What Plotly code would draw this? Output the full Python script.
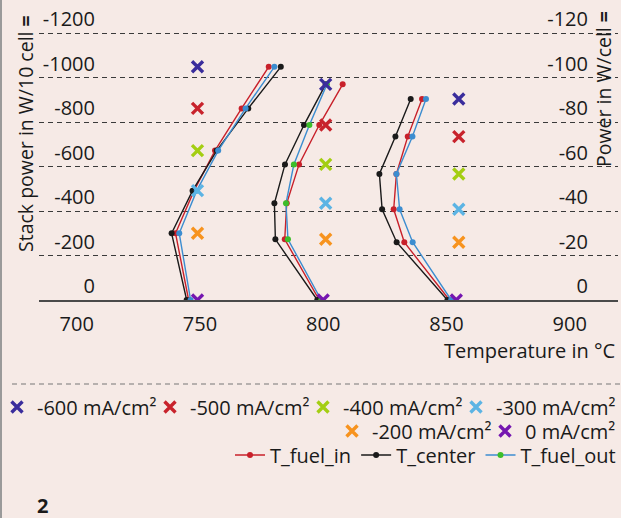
import plotly.graph_objects as go

W, H = 621, 518

# ---------------- data ----------------
groups = ["750 °C", "800 °C", "850 °C"]
current_labels = ["-600 mA/cm²", "-500 mA/cm²", "-400 mA/cm²", "-300 mA/cm²", "-200 mA/cm²", "0 mA/cm²"]

# stack power (W/10 cell) at each current density, per furnace group (order: -600 ... 0)
power_750 = [-1049, -862, -672, -492, -300, 0]
power_800 = [-970, -787, -610, -435, -273, 0]
power_850 = [-904, -735, -567, -408, -260, 0]

# x position (°C) of the current-density markers per group
marker_x_750 = [749, 749, 749, 749, 749, 749]
marker_x_800 = [801, 801, 801, 801, 801, 800]
marker_x_850 = [855, 855, 855, 855, 855, 854]

# temperatures (°C) per group, same order as power
t_fuel_in_750 = [777.9, 766.9, 756.1, 747.6, 740.1, 745.4]
t_center_750 = [782.8, 769.6, 756.8, 747.0, 738.5, 744.6]
t_fuel_out_750 = [780.2, 768.5, 757.4, 748.7, 741.6, 746.2]

t_fuel_in_800 = [807.9, 798.4, 790.2, 785.2, 784.4, 798.4]
t_center_800 = [801.0, 792.2, 784.5, 780.2, 780.6, 797.6]
t_fuel_out_800 = [801.5, 794.4, 788.1, 784.9, 785.7, 799.2]

t_fuel_in_850 = [840.1, 834.3, 829.7, 828.6, 832.9, 851.2]
t_center_850 = [835.5, 829.3, 822.8, 823.9, 829.8, 850.4]
t_fuel_out_850 = [841.7, 836.2, 829.7, 831.0, 836.3, 851.9]

x_ticks = [700, 750, 800, 850, 900]
y_ticks = [0, -200, -400, -600, -800, -1000, -1200]
y2_ticks = [0, -20, -40, -60, -80, -100, -120]
cells_per_stack = 10

# ---------------- styles ----------------
BG = "#F6EAE6"
FONT = "Open Sans"
TXT = "#1a1a1a"
cross_colors = ["#3A2D9C", "#C8232C", "#A4CE12", "#5CB4E4", "#F7931E", "#7516B0"]
c_in, c_center, c_out, c_out_mk = "#C8202A", "#1a1a1a", "#3C8DD0", "#3DBE2A"

fig = go.Figure()

powers = [power_750, power_800, power_850]
series = [
    ("T_fuel_in", [t_fuel_in_750, t_fuel_in_800, t_fuel_in_850], c_in, [c_in, c_in, c_in]),
    ("T_center", [t_center_750, t_center_800, t_center_850], c_center, [c_center] * 3),
    ("T_fuel_out", [t_fuel_out_750, t_fuel_out_800, t_fuel_out_850], c_out, [c_out, c_out_mk, c_out]),
]
legend_group_idx = {"T_fuel_in": 0, "T_center": 0, "T_fuel_out": 1}
for name, temps, lc, mcs in series:
    for gi in range(3):
        show = gi == legend_group_idx[name]
        fig.add_trace(go.Scatter(
            x=temps[gi], y=powers[gi], mode="lines+markers", name=name,
            line=dict(color=lc, width=1.4),
            marker=dict(color=mcs[gi], size=6),
            legend="legend3", showlegend=show, legendgroup=name,
        ))

# current-density markers, plotted on the per-cell power axis (W/cell)
mx = [marker_x_750, marker_x_800, marker_x_850]
for ci, lab in enumerate(current_labels):
    fig.add_trace(go.Scatter(
        x=[mx[g][ci] for g in range(3)],
        y=[powers[g][ci] / cells_per_stack for g in range(3)],
        mode="markers", name=lab, yaxis="y2",
        marker=dict(symbol="x-thin", size=11, line=dict(color=cross_colors[ci], width=3.4),
                    color=cross_colors[ci]),
        legend="legend" if ci < 4 else "legend2",
        legendwidth=(108 if ci not in (3, 5) else None),
    ))

x0px, x1px = 39, 618
top_px, bot_px = 0, 300
px_per_unit = 0.2223
ymax = -(bot_px - top_px) / px_per_unit

def fx(px):
    return px / W

def fy(py):
    return (H - py) / H

fig.update_layout(
    width=W, height=H,
    margin=dict(l=0, r=0, t=0, b=0),
    paper_bgcolor=BG, plot_bgcolor=BG,
    font=dict(family=FONT, size=20, color=TXT),
    xaxis=dict(
        domain=[fx(x0px), fx(x1px)], range=[684.7, 919.6],
        tickvals=x_ticks, ticktext=[str(v) for v in x_ticks],
        showgrid=False, zeroline=False, showline=True, linecolor="#4a4a4a", linewidth=2,
        ticks="", ticklabelstandoff=5, automargin=False,
        anchor="y",
    ),
    yaxis=dict(
        domain=[fy(bot_px), fy(top_px)], range=[0, ymax],
        tickvals=y_ticks, ticktext=[str(v) for v in y_ticks],
        showgrid=True, gridcolor="#3a3a3a", gridwidth=1, griddash="5px,4px",
        zeroline=False, showline=False, ticks="",
        anchor="free", position=fx(95), side="left",
        ticklabelposition="outside top", automargin=False,
    ),
    yaxis2=dict(
        domain=[fy(bot_px), fy(top_px)], range=[0, ymax / cells_per_stack],
        tickvals=y2_ticks, ticktext=[str(v) for v in y2_ticks],
        showgrid=False, zeroline=False, showline=False, ticks="",
        overlaying="y", anchor="free", position=fx(588), side="left",
        ticklabelposition="outside top", automargin=False,
    ),
    showlegend=True,
    legend=dict(orientation="h", x=1, xanchor="right", y=fy(407), yanchor="middle",
                bgcolor="rgba(0,0,0,0)", font=dict(size=20), traceorder="normal"),
    legend2=dict(orientation="h", x=1, xanchor="right", y=fy(431), yanchor="middle",
                 bgcolor="rgba(0,0,0,0)", font=dict(size=20), traceorder="normal"),
    legend3=dict(orientation="h", x=1, xanchor="right", y=fy(455), yanchor="middle",
                 bgcolor="rgba(0,0,0,0)", font=dict(size=20), traceorder="normal"),
    annotations=[
        dict(text="Temperature in °C", xref="paper", yref="paper", x=fx(617), y=fy(350),
             xanchor="right", yanchor="middle", showarrow=False, font=dict(size=20)),
        dict(text="Stack power in W/10 cell <b>=</b>", xref="paper", yref="paper", x=fx(25), y=fy(134),
             xanchor="center", yanchor="middle", textangle=-90, showarrow=False, font=dict(size=19.5)),
        dict(text="Power in W/cell <b>=</b>", xref="paper", yref="paper", x=fx(603), y=fy(89),
             xanchor="center", yanchor="middle", textangle=-90, showarrow=False, font=dict(size=19.5)),
        dict(text="<b>2</b>", xref="paper", yref="paper", x=fx(42), y=fy(505),
             xanchor="center", yanchor="middle", showarrow=False, font=dict(size=20)),
    ],
    shapes=[
        dict(type="line", xref="paper", yref="paper", x0=fx(12), x1=fx(621), y0=fy(384), y1=fy(384),
             line=dict(color="#777777", width=1.2, dash="5px,4px")),
        dict(type="line", xref="paper", yref="paper", x0=fx(1), x1=fx(1), y0=0, y1=1,
             line=dict(color="#9a9a9a", width=2)),
    ],
)

fig.write_html("out.html", config={"displayModeBar": False},
               post_script="document.body.style.margin='0';document.body.style.overflow='hidden';")
